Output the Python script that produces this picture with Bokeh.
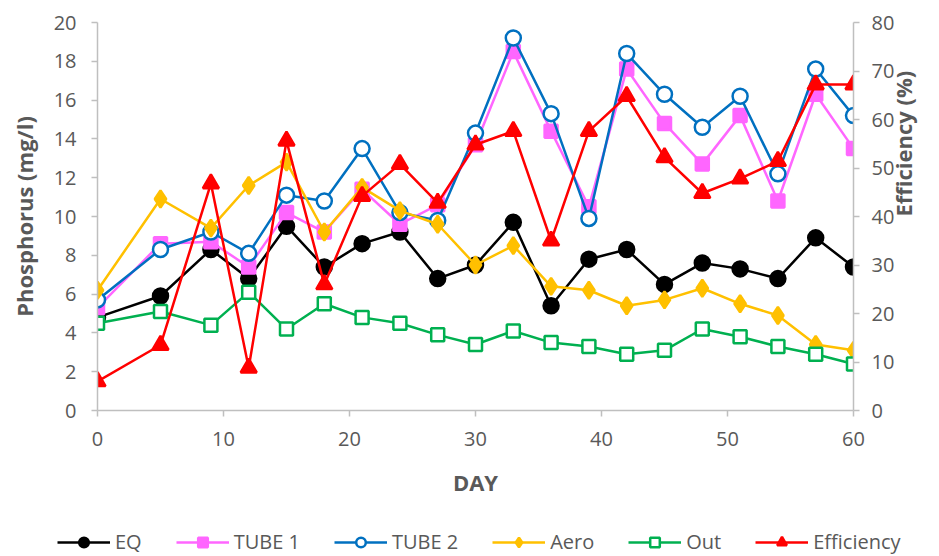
import math
from bokeh.plotting import figure
from bokeh.models import Range1d, LinearAxis, Legend, LegendItem, FixedTicker
from bokeh.layouts import column
from bokeh.embed import file_html
from bokeh.resources import INLINE

days = [0, 5, 9, 12, 15, 18, 21, 24, 27, 30, 33, 36, 39, 42, 45, 48, 51, 54, 57, 60]
eq = [4.8, 5.9, 8.3, 6.8, 9.5, 7.4, 8.6, 9.2, 6.8, 7.5, 9.7, 5.4, 7.8, 8.3, 6.5, 7.6, 7.3, 6.8, 8.9, 7.4]
tube1 = [5.3, 8.6, 8.7, 7.4, 10.2, 9.2, 11.4, 9.6, 10.6, 13.7, 18.5, 14.4, 10.5, 17.6, 14.8, 12.7, 15.2, 10.8, 16.3, 13.5]
tube2 = [5.7, 8.3, 9.2, 8.1, 11.1, 10.8, 13.5, 10.2, 9.8, 14.3, 19.2, 15.3, 9.9, 18.4, 16.3, 14.6, 16.2, 12.2, 17.6, 15.2]
aero = [6.2, 10.9, 9.4, 11.6, 12.8, 9.2, 11.5, 10.3, 9.6, 7.5, 8.5, 6.4, 6.2, 5.4, 5.7, 6.3, 5.5, 4.9, 3.4, 3.1]
out = [4.5, 5.1, 4.4, 6.1, 4.2, 5.5, 4.8, 4.5, 3.9, 3.4, 4.1, 3.5, 3.3, 2.9, 3.1, 4.2, 3.8, 3.3, 2.9, 2.4]
efficiency = [6.0, 13.5, 46.8, 8.8, 55.6, 26.0, 44.2, 50.8, 42.8, 54.8, 57.6, 35.0, 57.6, 64.8, 52.2, 44.8, 47.8, 51.4, 67.2, 67.2]

series_names = ["EQ", "TUBE 1", "TUBE 2", "Aero", "Out", "Efficiency"]
series_values = [eq, tube1, tube2, aero, out, efficiency]
x_ticks = [0, 10, 20, 30, 40, 50, 60]
y_ticks = [0, 2, 4, 6, 8, 10, 12, 14, 16, 18, 20]
eff_ticks = [0, 10, 20, 30, 40, 50, 60, 70, 80]

FONT = "Open Sans"
GREY = "#595959"
AXIS = "#BFBFBF"

styles = [
    dict(color="black", marker="circle", fill="black", size=15),
    dict(color="#FF66FF", marker="square", fill="#FF66FF", size=13),
    dict(color="#0070C0", marker="circle", fill="white", size=15),
    dict(color="#FFC000", marker="diamond", fill="#FFC000", size=17),
    dict(color="#00B050", marker="square", fill="white", size=13),
    dict(color="#FF0000", marker="triangle", fill="#FF0000", size=16),
]

p = figure(width=939, height=520, output_backend="svg", toolbar_location=None,
           x_range=Range1d(0, 60), y_range=Range1d(0, 20),
           min_border_left=97, min_border_right=86, min_border_top=22, min_border_bottom=110)
p.outline_line_color = None
p.xgrid.visible = False
p.ygrid.visible = False
p.extra_y_ranges = {"eff": Range1d(0, 80)}

def style_axis(ax):
    ax.axis_line_color = AXIS
    ax.axis_line_width = 1.5
    ax.major_tick_line_color = AXIS
    ax.major_tick_line_width = 1.5
    ax.major_tick_out = 6
    ax.major_tick_in = 0
    ax.minor_tick_line_color = None
    ax.major_label_text_font = FONT
    ax.major_label_text_font_size = "20px"
    ax.major_label_text_color = GREY
    ax.axis_label_text_font = FONT
    ax.axis_label_text_font_size = "22px"
    ax.axis_label_text_font_style = "bold"
    ax.axis_label_text_color = GREY

xa = p.xaxis[0]
xa.ticker = FixedTicker(ticks=x_ticks)
xa.axis_label = "DAY"
xa.major_label_standoff = 15
xa.axis_label_standoff = 18
style_axis(xa)

ya = p.yaxis[0]
ya.ticker = FixedTicker(ticks=y_ticks)
ya.axis_label = "Phosphorus (mg/l)"
ya.major_label_standoff = 15
ya.axis_label_standoff = 12
style_axis(ya)

ra = LinearAxis(y_range_name="eff", ticker=FixedTicker(ticks=eff_ticks),
                axis_label="Efficiency (%)")
ra.major_label_standoff = 12
ra.axis_label_standoff = 6
ra.axis_label_orientation = math.pi / 2
style_axis(ra)
p.add_layout(ra, "right")

for name, ys, st in zip(series_names, series_values, styles):
    kw = {"y_range_name": "eff"} if name == "Efficiency" else {}
    p.line(days, ys, line_color=st["color"], line_width=2.5, **kw)
    p.scatter(days, ys, marker=st["marker"], size=st["size"], line_color=st["color"],
              line_width=2.5, fill_color=st["fill"], **kw)

# legend strip
lf = figure(width=939, height=36, output_backend="svg", toolbar_location=None,
            x_range=Range1d(0, 1), y_range=Range1d(0, 1),
            x_axis_location=None, y_axis_location=None,
            min_border=0, min_border_left=0, min_border_right=0, min_border_top=0, min_border_bottom=0)
lf.frame_align = False
lf.grid.visible = False
lf.outline_line_color = None
items = []
for name, st in zip(series_names, styles):
    l = lf.line([-5, -4], [-5, -4], line_color=st["color"], line_width=2.5)
    s = lf.scatter([-5], [-5], marker=st["marker"], size=st["size"], line_color=st["color"],
                   line_width=2.5, fill_color=st["fill"])
    items.append(LegendItem(label=name, renderers=[l, s]))
legend = Legend(items=items, orientation="horizontal", location=(57, 1))
legend.label_text_font = FONT
legend.label_text_font_size = "20px"
legend.label_text_color = GREY
legend.glyph_width = 53
legend.glyph_height = 24
legend.label_height = 24
legend.label_standoff = 5
legend.spacing = 34
legend.border_line_color = None
legend.background_fill_alpha = 0
legend.margin = 0
legend.padding = 0
lf.add_layout(legend, "center")

layout = column(p, lf, spacing=0)
open("out.html", "w").write(file_html(layout, INLINE))
